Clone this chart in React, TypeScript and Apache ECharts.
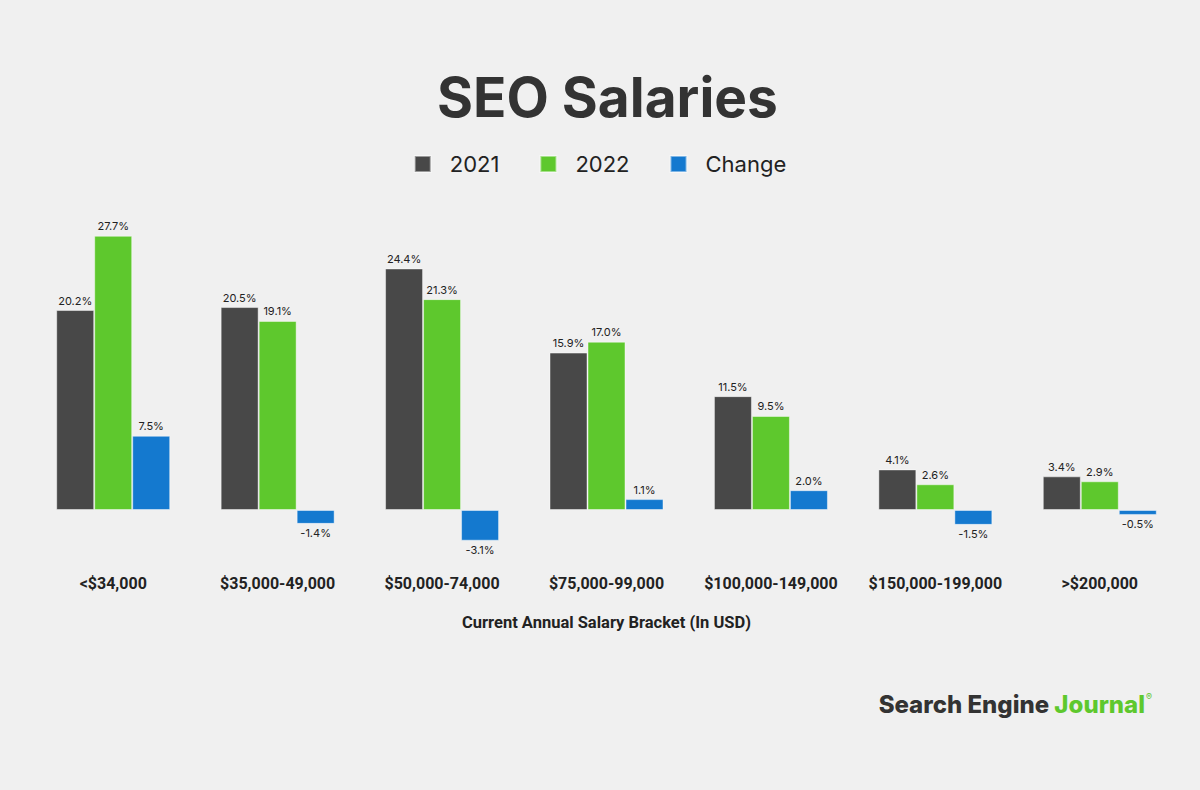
import React, { useEffect, useRef } from "react";
import * as echarts from "echarts";

const categories = ["<$34,000", "$35,000-49,000", "$50,000-74,000", "$75,000-99,000", "$100,000-149,000", "$150,000-199,000", ">$200,000"];
const values2021 = [20.2, 20.5, 24.4, 15.9, 11.5, 4.1, 3.4];
const values2022 = [27.7, 19.1, 21.3, 17.0, 9.5, 2.6, 2.9];
const valuesChange = [7.5, -1.4, -3.1, 1.1, 2.0, -1.5, -0.5];

const FONT = "Inter, 'Noto Sans', sans-serif";
const NARROW = "Roboto, 'Liberation Sans', sans-serif";

function toItems(arr: number[]) {
  return arr.map((v) => ({
    value: v,
    label: { position: v < 0 ? "bottom" : "top" },
  }));
}

export default function App() {
  const ref = useRef<HTMLDivElement>(null);
  useEffect(() => {
    if (!ref.current) return;
    const chart = echarts.init(ref.current, undefined, { renderer: "svg" });
    const label = {
      show: true,
      fontFamily: FONT,
      fontSize: 11,
      color: "#222",
      distance: 4,
      formatter: (p: any) => Number(p.value).toFixed(1) + "%",
    };
    const border = { borderColor: "rgba(255,255,255,0.45)", borderWidth: 1 };
    chart.setOption({
      animation: false,
      backgroundColor: "#f0f0f0",
      title: {
        text: "SEO Salaries",
        left: 432,
        top: 64,
        textStyle: { fontFamily: FONT, fontSize: 55, fontWeight: "bold", color: "#333" },
      },
      legend: {
        top: 148,
        left: "center",
        itemWidth: 16,
        itemHeight: 16,
        itemGap: 40,
        icon: "rect",
        textStyle: { fontFamily: FONT, fontSize: 22, color: "#222", padding: [2, 0, 0, 14] },
        data: ["2021", "2022", "Change"],
      },
      grid: { left: 31, right: 18, top: 213, height: 346.5 },
      xAxis: {
        type: "category",
        data: categories,
        axisLine: { show: false },
        axisTick: { show: false },
        axisLabel: {
          margin: 16,
          fontFamily: NARROW,
          fontSize: 16,
          fontWeight: "bold",
          color: "#222",
          interval: 0,
        },
        name: "Current Annual Salary Bracket (In USD)",
        nameLocation: "middle",
        nameGap: 54,
        nameTextStyle: { fontFamily: NARROW, fontSize: 16.5, fontWeight: "bold", color: "#222" },
      },
      yAxis: {
        type: "value",
        min: -5,
        max: 30,
        show: false,
        splitLine: { show: false },
      },
      series: [
        {
          name: "2021",
          type: "bar",
          data: values2021,
          barWidth: 38,
          barGap: "0%",
          barCategoryGap: "30%",
          itemStyle: { color: "#484848", ...border },
          label: { ...label, position: "top" },
        },
        {
          name: "2022",
          type: "bar",
          data: values2022,
          barWidth: 38,
          barGap: "0%",
          itemStyle: { color: "#5ec82d", ...border },
          label: { ...label, position: "top" },
        },
        {
          name: "Change",
          type: "bar",
          data: toItems(valuesChange),
          barWidth: 38,
          barGap: "0%",
          itemStyle: { color: "#1479cf", ...border },
          label: { ...label },
        },
      ],
      graphic: [
        {
          type: "text",
          right: 48,
          top: 692,
          style: {
            text: "{a|Search Engine }{b|Journal}{c|®}",
            rich: {
              a: { fontFamily: FONT, fontSize: 24, fontWeight: 800, fill: "#333" } as any,
              b: { fontFamily: FONT, fontSize: 24, fontWeight: 800, fill: "#5ec82d" } as any,
              c: { fontFamily: FONT, fontSize: 9, fill: "#5ec82d", verticalAlign: "top", padding: [0, 0, 14, 1] } as any,
            },
          },
        },
      ],
    });
    return () => chart.dispose();
  }, []);
  return (
    <div
      ref={ref}
      style={{ position: "fixed", left: 0, top: 0, width: 1200, height: 790 }}
    />
  );
}
